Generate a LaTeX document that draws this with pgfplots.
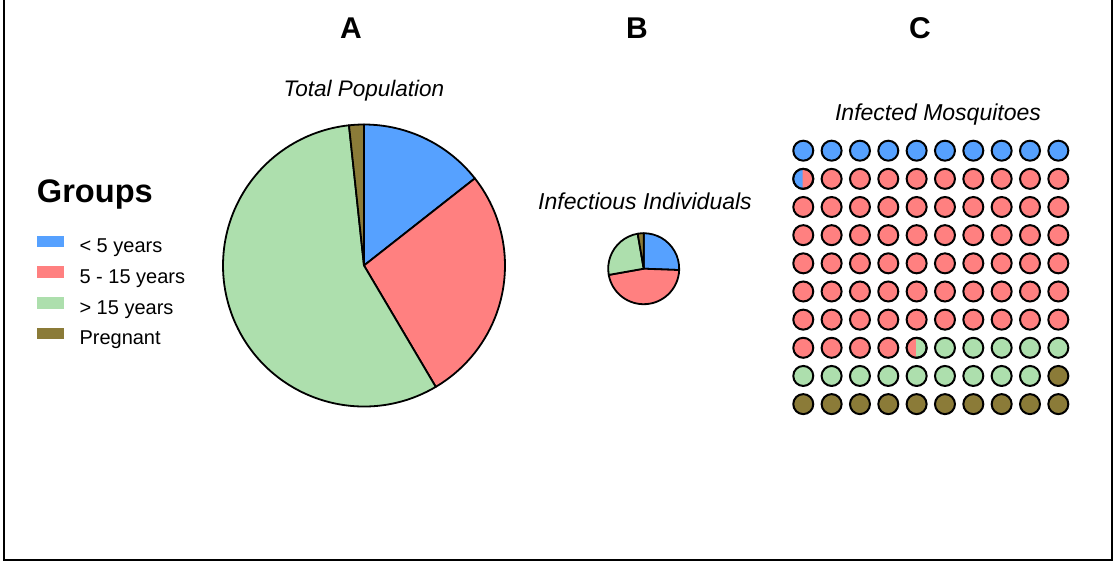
\documentclass[border=0pt]{standalone}
\usepackage{pgfplots}
\pgfplotsset{compat=1.18}
\usepackage{pgfplotstable}
\usepackage{fontspec}
\setmainfont{Liberation Sans}

\definecolor{cblue}{RGB}{86,161,255}
\definecolor{cred}{RGB}{255,128,128}
\definecolor{cgreen}{RGB}{173,223,173}
\definecolor{colive}{RGB}{139,123,56}

% share of each group (percent)
\pgfplotstableread{
group    color   total  infectious
young    cblue   14.4   25.6
child    cred    27.1   46.6
adult    cgreen  56.8   25.1
pregnant colive  1.7    2.7
}\piedata

% left part of a circle, for the split dots of the waffle
\pgfdeclareplotmark{leftcap}{%
  \pgfpathmoveto{\pgfpointpolar{94}{\pgfplotmarksize}}%
  \pgfpatharc{94}{266}{\pgfplotmarksize}%
  \pgfpathclose
  \pgfusepathqfill
}

% pie around (0,0) of the current axis; #1 column, #2 radius
\newcommand\drawpie[2]{%
  \def\cum{0}%
  \pgfplotsforeachungrouped \slicei in {0,...,3}{%
    \pgfplotstablegetelem{\slicei}{color}\of\piedata
    \let\col\pgfplotsretval
    \pgfplotstablegetelem{\slicei}{#1}\of\piedata
    \pgfmathsetmacro\sa{90-3.6*\cum}%
    \pgfmathsetmacro\cum{\cum+\pgfplotsretval}%
    \pgfmathsetmacro\sb{90-3.6*\cum}%
    \edef\slice{\noexpand\filldraw[fill=\col,draw=black,line width=0.9pt,line join=round]
      (axis cs:0,0) -- ++(\sa:#2) arc[start angle=\sa,end angle=\sb,radius=#2] -- cycle;}%
    \slice
  }%
}

\begin{document}
\begin{tikzpicture}
\useasboundingbox (0,0) rectangle (560pt,-281pt);
\draw[line width=1pt] (2pt,0) -- (2pt,-279.75pt) -- (556pt,-279.75pt) -- (556pt,0);

\node[anchor=base, font=\fontsize{15}{18}\selectfont\bfseries] at (175.5pt,-19.5pt) {A};
\node[anchor=base, font=\fontsize{15}{18}\selectfont\bfseries] at (318.5pt,-19.5pt) {B};
\node[anchor=base, font=\fontsize{15}{18}\selectfont\bfseries] at (460pt,-19.5pt) {C};

\node[anchor=base, font=\fontsize{11.25}{13}\selectfont\itshape] at (182pt,-48.35pt) {Total Population};
\node[anchor=base, font=\fontsize{11.5}{13}\selectfont\itshape] at (322.5pt,-104.5pt) {Infectious Individuals};
\node[anchor=base, font=\fontsize{11.5}{13}\selectfont\itshape] at (469pt,-60pt) {Infected Mosquitoes};

\node[anchor=base west, inner sep=0pt, font=\fontsize{16.3}{19}\selectfont\bfseries] at (18.25pt,-101pt) {Groups};

% A: total population
\begin{axis}[at={(182pt,-132.75pt)}, anchor=center, x=70.5pt, y=70.5pt,
  xmin=-1, xmax=1, ymin=-1, ymax=1, hide axis, clip=false,
  legend style={at={(axis description cs:-0.662,0.607)}, anchor=north west,
    draw=none, fill=none, inner sep=0pt, row sep=4.7pt, column sep=8pt,
    font=\fontsize{10}{12}\selectfont,
    nodes={inner sep=0pt, text height=7.2pt, text depth=2.2pt}},
  legend cell align=left,
  legend image code/.code={\fill[#1] (0pt,0.55pt) rectangle (13pt,5.75pt);}]
\drawpie{total}{70.5pt}
\addlegendimage{cblue}\addlegendentry{< 5 years}
\addlegendimage{cred}\addlegendentry{5 - 15 years}
\addlegendimage{cgreen}\addlegendentry{> 15 years}
\addlegendimage{colive}\addlegendentry{Pregnant}
\end{axis}

% B: infectious individuals
\begin{axis}[at={(321.85pt,-134.35pt)}, anchor=center, x=17.75pt, y=17.75pt,
  xmin=-1, xmax=1, ymin=-1, ymax=1, hide axis, clip=false]
\drawpie{infectious}{17.75pt}
\end{axis}

% C: infected mosquitoes, one dot per percent
\begin{axis}[at={(465.4pt,-138.7pt)}, anchor=center, x=14.17pt, y=14.08pt,
  xmin=0.5, xmax=10.5, ymin=0.5, ymax=10.5, y dir=reverse, hide axis, clip=false]
\addplot[only marks, mark=*, mark size=5pt, mark options={fill=cblue, draw=black, line width=1pt}]
  coordinates {(1,1) (2,1) (3,1) (4,1) (5,1) (6,1) (7,1) (8,1) (9,1) (10,1)};
\addplot[only marks, mark=*, mark size=5pt, mark options={fill=cred, draw=black, line width=1pt}]
  coordinates {
  (1,2) (2,2) (3,2) (4,2) (5,2) (6,2) (7,2) (8,2) (9,2) (10,2)
  (1,3) (2,3) (3,3) (4,3) (5,3) (6,3) (7,3) (8,3) (9,3) (10,3)
  (1,4) (2,4) (3,4) (4,4) (5,4) (6,4) (7,4) (8,4) (9,4) (10,4)
  (1,5) (2,5) (3,5) (4,5) (5,5) (6,5) (7,5) (8,5) (9,5) (10,5)
  (1,6) (2,6) (3,6) (4,6) (5,6) (6,6) (7,6) (8,6) (9,6) (10,6)
  (1,7) (2,7) (3,7) (4,7) (5,7) (6,7) (7,7) (8,7) (9,7) (10,7)
  (1,8) (2,8) (3,8) (4,8)};
\addplot[only marks, mark=*, mark size=5pt, mark options={fill=cgreen, draw=black, line width=1pt}]
  coordinates {
  (5,8) (6,8) (7,8) (8,8) (9,8) (10,8)
  (1,9) (2,9) (3,9) (4,9) (5,9) (6,9) (7,9) (8,9) (9,9)};
\addplot[only marks, mark=*, mark size=5pt, mark options={fill=colive, draw=black, line width=1pt}]
  coordinates {
  (10,9)
  (1,10) (2,10) (3,10) (4,10) (5,10) (6,10) (7,10) (8,10) (9,10) (10,10)};
% split dots
\addplot[only marks, mark=leftcap, mark size=5pt, mark options={fill=cblue}] coordinates {(1,2)};
\addplot[only marks, mark=leftcap, mark size=5pt, mark options={fill=cred}] coordinates {(5,8)};
\addplot[only marks, mark=o, mark size=5pt, mark options={draw=black, line width=1pt}]
  coordinates {(1,2) (5,8)};
\end{axis}
\end{tikzpicture}
\end{document}
